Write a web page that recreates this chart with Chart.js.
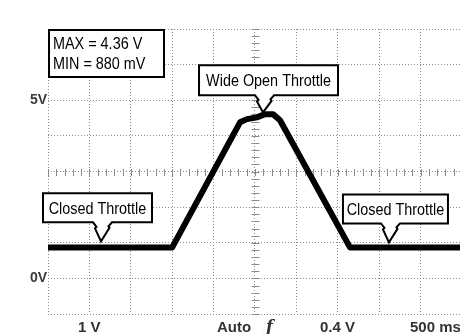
<!DOCTYPE html>
<html><head><meta charset="utf-8">
<script src="https://cdn.jsdelivr.net/npm/chart.js@4/dist/chart.umd.min.js"></script>
<style>html,body{margin:0;padding:0;background:#fff;}#wrap{width:460px;height:334px;position:relative;}</style>
</head><body><div id="wrap"><canvas id="c" width="460" height="334"></canvas></div>
<script>
// ---- data ----
const timeMs  = [0, 1500, 2319, 2403, 2524, 2621, 2717, 2802, 3647, 4976];
const voltage = [0.87, 0.87, 4.38, 4.47, 4.52, 4.61, 4.61, 4.44, 0.87, 0.87];
const gridTimes = [0, 500, 1000, 1500, 2000, 2500, 3000, 3500, 4000, 4500];
const voltTickValues = [5, 0];
const voltTickTexts  = ['5V', '0V'];
const readoutLines   = ['MAX = 4.36 V', 'MIN = 880 mV'];
const calloutLabels  = ['Wide Open Throttle', 'Closed Throttle', 'Closed Throttle'];
const calloutTimes   = [2597, 640, 4118];
const calloutVolts   = [4.66, 1.04, 1.01];
const statusLabels   = ['1 V', 'Auto', '\u0192', '0.4 V', '500 ms'];

// ---- styles / layout ----
const gridGray = '#8c8c8c';
const calloutBoxes = [{dx:-64, w:139, h:30, gap:17}, {dx:-58, w:109, h:29, gap:19}, {dx:-46, w:105, h:29, gap:19}];
const statusX = [78, 217, 266, 320, 410];
const boxFont = "16px 'Liberation Sans', Arial, sans-serif";
const squeeze = 0.9;

function squeezedText(ctx, text, x, y, align) {
  ctx.save();
  ctx.translate(x, y);
  ctx.scale(squeeze, 1);
  ctx.textAlign = align;
  ctx.fillText(text, 0, 0);
  ctx.restore();
}

const centerTicks = {
  id: 'centerTicks',
  beforeDatasetsDraw(chart) {
    const {ctx, scales: {x, y}} = chart;
    const cy = Math.round(y.getPixelForValue(3)) + 0.5;
    const cx = Math.round(x.getPixelForValue(2500)) + 0.5;
    ctx.save();
    ctx.strokeStyle = gridGray; ctx.lineWidth = 1;
    ctx.beginPath();
    for (let i = 0; i * 100 <= x.max; i++) {
      const px = Math.round(x.getPixelForValue(i * 100)) + 0.5;
      ctx.moveTo(px, cy - 3.5); ctx.lineTo(px, cy + 3.5);
    }
    for (let i = 0; i <= 40; i++) {
      const py = Math.round(y.getPixelForValue(-1 + i * 0.2)) + 0.5;
      ctx.moveTo(cx - 4, py); ctx.lineTo(cx + 4, py);
    }
    ctx.stroke();
    ctx.restore();
  }
};

function drawCallout(ctx, tx, ty, box, text) {
  const left = tx + box.dx, right = left + box.w, bottom = ty - box.gap, top = bottom - box.h;
  ctx.beginPath();
  ctx.moveTo(left, top); ctx.lineTo(right, top); ctx.lineTo(right, bottom);
  ctx.lineTo(tx + 11, bottom); ctx.lineTo(tx + 7.5, bottom + 4); ctx.lineTo(tx + 8.5, bottom + 5.5);
  ctx.lineTo(tx, ty);
  ctx.lineTo(tx - 6, bottom + 6); ctx.lineTo(tx - 4.5, bottom + 4.5); ctx.lineTo(tx - 8, bottom);
  ctx.lineTo(left, bottom); ctx.closePath();
  ctx.fillStyle = '#fff'; ctx.fill();
  ctx.strokeStyle = '#000'; ctx.lineWidth = 2; ctx.lineJoin = 'miter'; ctx.stroke();
  ctx.fillStyle = '#000'; ctx.font = boxFont; ctx.textBaseline = 'alphabetic';
  squeezedText(ctx, text, (left + right) / 2, top + box.h / 2 + 6, 'center');
}

const annotations = {
  id: 'annotations',
  afterDatasetsDraw(chart) {
    const {ctx, chartArea: a, scales: {x, y}} = chart;
    ctx.save();
    // readout box
    const rl = a.left + 1, rt = a.top + 1, rw = 115, rh = 47;
    ctx.fillStyle = '#fff'; ctx.fillRect(rl, rt, rw, rh);
    ctx.strokeStyle = '#000'; ctx.lineWidth = 2; ctx.strokeRect(rl, rt, rw, rh);
    ctx.fillStyle = '#000'; ctx.font = boxFont; ctx.textBaseline = 'alphabetic';
    readoutLines.forEach((t, i) => squeezedText(ctx, t, rl + 4, rt + 19 + i * 19.5, 'left'));
    // callouts
    calloutLabels.forEach((t, i) => {
      drawCallout(ctx, x.getPixelForValue(calloutTimes[i]), y.getPixelForValue(calloutVolts[i]), calloutBoxes[i], t);
    });
    // status line
    ctx.fillStyle = '#333';
    ctx.font = "bold 15px 'Liberation Sans', Arial, sans-serif";
    ctx.textAlign = 'left';
    statusLabels.forEach((t, i) => {
      if (i === 2) {
        ctx.save(); ctx.font = "italic bold 16px 'DejaVu Serif', serif"; ctx.fillText(t, statusX[i], 332); ctx.restore();
      } else {
        ctx.fillText(t, statusX[i], 332);
      }
    });
    ctx.restore();
  }
};

new Chart(document.getElementById('c').getContext('2d'), {
  type: 'line',
  data: {
    datasets: [{
      data: timeMs.map((t, i) => ({x: t, y: voltage[i]})),
      borderColor: '#000', borderWidth: 6, pointRadius: 0, tension: 0,
      borderJoinStyle: 'round', fill: false
    }]
  },
  options: {
    responsive: false, animation: false, devicePixelRatio: 1,
    layout: {padding: {top: 29, bottom: 20, left: 0, right: 0}},
    plugins: {legend: {display: false}, tooltip: {enabled: false}},
    scales: {
      x: {
        type: 'linear', min: 0, max: 4976,
        ticks: {display: false},
        afterBuildTicks: s => { s.ticks = gridTimes.map(v => ({value: v})); },
        afterFit: s => { s.height = 0; },
        grid: {color: gridGray, lineWidth: 1, drawTicks: false},
        border: {display: false, dash: [1, 2]}
      },
      y: {
        min: -1, max: 7,
        ticks: {
          stepSize: 1, padding: 1, color: '#3a3a3a',
          font: {family: "'Liberation Sans', Arial, sans-serif", size: 14, weight: 'bold'},
          callback: v => { const k = voltTickValues.indexOf(v); return k >= 0 ? voltTickTexts[k] : ''; }
        },
        grid: {color: gridGray, lineWidth: 1, drawTicks: false},
        border: {display: false, dash: [1, 2]},
        afterFit: s => { s.width = 48; }
      }
    }
  },
  plugins: [centerTicks, annotations]
});
</script>
</body></html>
